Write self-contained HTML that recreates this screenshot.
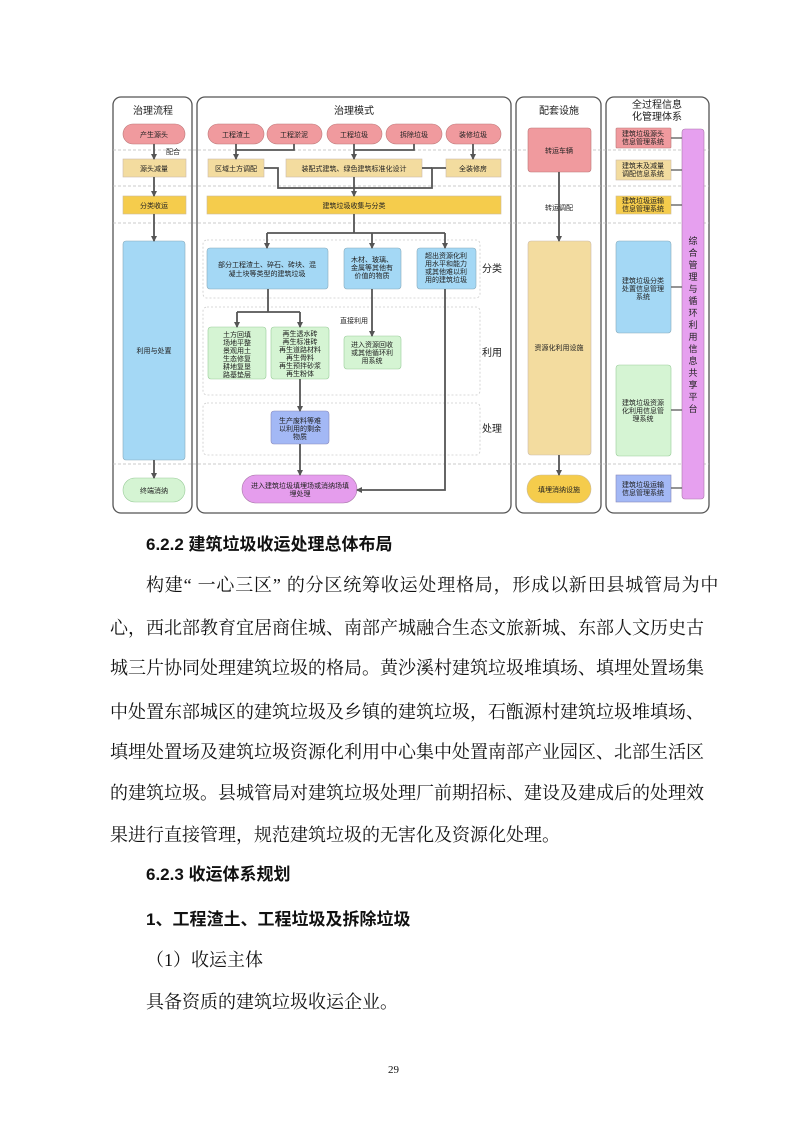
<!DOCTYPE html>
<html><head><meta charset="utf-8"><style>
html,body{margin:0;padding:0;background:#fff}
body{width:793px;height:1122px;position:relative;overflow:hidden}
.t{position:absolute;white-space:nowrap;font-family:"Liberation Serif","Noto Serif CJK SC",serif;font-size:18px;color:#111;line-height:20px}
.h{position:absolute;white-space:nowrap;font-family:"Liberation Sans","Noto Sans CJK SC",sans-serif;font-size:17px;font-weight:bold;color:#111;line-height:20px}
svg text{font-family:"Liberation Sans","Noto Sans CJK SC",sans-serif;fill:#222}
</style></head><body>
<svg width="793" height="530" style="position:absolute;left:0;top:0" xmlns="http://www.w3.org/2000/svg">
<defs><marker id="a" markerWidth="6" markerHeight="6" refX="5" refY="3" orient="auto" markerUnits="userSpaceOnUse"><path d="M0,0 L6,3 L0,6z" fill="#555"/></marker></defs>
<g fill="none" stroke="#555" stroke-width="1.3">
<rect x="113" y="97" width="79" height="416" rx="8"/>
<rect x="197" y="97" width="314" height="416" rx="8"/>
<rect x="516" y="97" width="85" height="416" rx="8"/>
<rect x="606" y="97" width="103" height="416" rx="8"/>
</g>
<g stroke="#bbb" stroke-width="0.8" stroke-dasharray="3,2">
<line x1="113" y1="150" x2="709" y2="150"/><line x1="113" y1="186" x2="709" y2="186"/><line x1="113" y1="223" x2="709" y2="223"/><line x1="113" y1="464" x2="709" y2="464"/>
</g>
<g fill="none" stroke="#ccc" stroke-width="0.8" stroke-dasharray="2,2">
<rect x="203" y="240" width="277" height="58" rx="4"/><rect x="203" y="307" width="277" height="88" rx="4"/><rect x="203" y="403" width="277" height="52" rx="4"/>
</g>
<g font-size="10" text-anchor="middle">
<text x="153" y="114">治理流程</text><text x="354" y="114">治理模式</text><text x="559" y="114">配套设施</text>
<text x="657" y="108">全过程信息</text><text x="657" y="120">化管理体系</text>
<text x="492" y="272">分类</text><text x="492" y="356">利用</text><text x="492" y="432">处理</text>
</g>
<g stroke="#b77" stroke-width="0.6" fill="#f09a9e">
<rect x="123" y="124" width="62" height="20" rx="10"/>
<rect x="208" y="124" width="56" height="20" rx="10"/><rect x="267" y="124" width="55" height="20" rx="10"/><rect x="327" y="124" width="55" height="20" rx="10"/><rect x="386" y="124" width="56" height="20" rx="10"/><rect x="446" y="124" width="55" height="20" rx="10"/>
<rect x="528" y="128" width="63" height="44" rx="3"/><rect x="616" y="128" width="55" height="20" rx="1"/>
</g>
<g stroke="#cba" stroke-width="0.6" fill="#f3dc9f">
<rect x="123" y="159" width="63" height="18"/><rect x="208" y="159" width="56" height="18"/><rect x="286" y="159" width="136" height="18"/><rect x="446" y="159" width="55" height="18"/>
<rect x="528" y="241" width="63" height="214" rx="3"/><rect x="616" y="160" width="55" height="20"/>
</g>
<g stroke="#cb9" stroke-width="0.6" fill="#f5cc4c">
<rect x="123" y="196" width="63" height="18"/><rect x="207" y="196" width="294" height="18"/><rect x="616" y="196" width="55" height="18"/>
<rect x="527" y="475" width="64" height="28" rx="14"/>
</g>
<g stroke="#8ab" stroke-width="0.6" fill="#a4d8f5">
<rect x="123" y="241" width="62" height="219" rx="3"/><rect x="207" y="248" width="121" height="41" rx="3"/><rect x="344" y="248" width="57" height="41" rx="3"/><rect x="417" y="248" width="59" height="41" rx="3"/><rect x="616" y="241" width="55" height="92" rx="3"/>
</g>
<g stroke="#9c9" stroke-width="0.6" fill="#d5f4d3">
<rect x="123" y="478" width="62" height="24" rx="12"/>
<rect x="208" y="327" width="58" height="52" rx="3"/><rect x="271" y="327" width="58" height="52" rx="3"/><rect x="344" y="336" width="57" height="33" rx="3"/><rect x="616" y="365" width="55" height="91" rx="3"/>
</g>
<g stroke="#88b" stroke-width="0.6" fill="#a3b8f5">
<rect x="271" y="411" width="58" height="33" rx="3"/><rect x="616" y="475" width="55" height="27"/>
</g>
<rect x="242" y="475" width="115" height="28" rx="14" fill="#e59ded" stroke="#a7a" stroke-width="0.6"/>
<rect x="682" y="129" width="22" height="370" rx="3" fill="#e6a0ef" stroke="#a7a" stroke-width="0.6"/>
<g fill="none" stroke="#555" stroke-width="1.8">
<path d="M154 144V159" marker-end="url(#a)"/><path d="M154 177V196" marker-end="url(#a)"/><path d="M154 214V241" marker-end="url(#a)"/><path d="M154 460V478" marker-end="url(#a)"/>
<path d="M236 144V159" marker-end="url(#a)"/><path d="M294 144V150H236"/>
<path d="M354 144V159" marker-end="url(#a)"/><path d="M414 144V150H354"/>
<path d="M473 144V159" marker-end="url(#a)"/>
<path d="M264 168H278V188H432V168H446"/><path d="M422 168H432"/><path d="M354 177V196" marker-end="url(#a)"/>
<path d="M354 214V233"/><path d="M267 233H445"/>
<path d="M267 233V248" marker-end="url(#a)"/><path d="M372 233V248" marker-end="url(#a)"/><path d="M445 233V248" marker-end="url(#a)"/>
<path d="M268 289V312"/><path d="M237 312H300"/><path d="M237 312V327" marker-end="url(#a)"/><path d="M300 312V327" marker-end="url(#a)"/>
<path d="M372 289V336" marker-end="url(#a)"/>
<path d="M300 379V411" marker-end="url(#a)"/><path d="M300 444V475" marker-end="url(#a)"/>
<path d="M445 289V490H357" marker-end="url(#a)"/>
<path d="M559 172V241" marker-end="url(#a)"/><path d="M559 455V475" marker-end="url(#a)"/>
<path d="M671 138H682M671 170H682M671 205H682M671 287H682M671 410H682M671 488H682" stroke-width="1.3"/>
</g>
<g font-size="7" text-anchor="middle">
<text x="154" y="137">产生源头</text><text x="166" y="154" text-anchor="start">配合</text>
<text x="236" y="137">工程渣土</text><text x="294" y="137">工程淤泥</text><text x="354" y="137">工程垃圾</text><text x="414" y="137">拆除垃圾</text><text x="473" y="137">装修垃圾</text>
<text x="154" y="171">源头减量</text><text x="236" y="171">区域土方调配</text><text x="354" y="171">装配式建筑、绿色建筑标准化设计</text><text x="473" y="171">全装修房</text>
<text x="154" y="208">分类收运</text><text x="354" y="208">建筑垃圾收集与分类</text>
<text x="154" y="353">利用与处置</text><text x="154" y="493">终端消纳</text>
<text x="267" y="267">部分工程渣土、碎石、砖块、混</text><text x="267" y="276">凝土块等类型的建筑垃圾</text>
<text x="372" y="262">木材、玻璃、</text><text x="372" y="270">金属等其他有</text><text x="372" y="278">价值的物质</text>
<text x="446" y="258">超出资源化利</text><text x="446" y="266">用水平和能力</text><text x="446" y="274">或其他难以利</text><text x="446" y="282">用的建筑垃圾</text>
<text x="354" y="323">直接利用</text>
<text x="237" y="337">土方回填</text><text x="237" y="345">场地平整</text><text x="237" y="353">景观用土</text><text x="237" y="361">生态修复</text><text x="237" y="369">耕地复垦</text><text x="237" y="377">路基垫层</text>
<text x="300" y="336">再生透水砖</text><text x="300" y="344">再生标准砖</text><text x="300" y="352">再生道路材料</text><text x="300" y="360">再生骨料</text><text x="300" y="368">再生预拌砂浆</text><text x="300" y="376">再生粉体</text>
<text x="372" y="347">进入资源回收</text><text x="372" y="355">或其他循环利</text><text x="372" y="363">用系统</text>
<text x="300" y="423">生产废料等难</text><text x="300" y="431">以利用的剩余</text><text x="300" y="439">物质</text>
<text x="300" y="488">进入建筑垃圾填埋场或消纳场填</text><text x="300" y="496">埋处理</text>
<text x="559" y="153">转运车辆</text><text x="559" y="210">转运调配</text><text x="559" y="350">资源化利用设施</text><text x="559" y="492">填埋消纳设施</text>
<text x="643" y="136">建筑垃圾源头</text><text x="643" y="144">信息管理系统</text>
<text x="643" y="168">建筑末及减量</text><text x="643" y="176">调配信息系统</text>
<text x="643" y="203">建筑垃圾运输</text><text x="643" y="211">信息管理系统</text>
<text x="643" y="283">建筑垃圾分类</text><text x="643" y="291">处置信息管理</text><text x="643" y="299">系统</text>
<text x="643" y="405">建筑垃圾资源</text><text x="643" y="413">化利用信息管</text><text x="643" y="421">理系统</text>
<text x="643" y="487">建筑垃圾运输</text><text x="643" y="495">信息管理系统</text>
</g>
<g font-size="9" text-anchor="middle">
<text x="693" y="244">综</text><text x="693" y="256">合</text><text x="693" y="268">管</text><text x="693" y="280">理</text><text x="693" y="292">与</text><text x="693" y="304">循</text><text x="693" y="316">环</text><text x="693" y="328">利</text><text x="693" y="340">用</text><text x="693" y="352">信</text><text x="693" y="364">息</text><text x="693" y="376">共</text><text x="693" y="388">享</text><text x="693" y="400">平</text><text x="693" y="412">台</text>
</g>
</svg>
<div class="h" style="left:146px;top:535px">6.2.2 建筑垃圾收运处理总体布局</div>
<div class="t" style="left:146px;top:575px;letter-spacing:0.8px">构建<span style="letter-spacing:6px">“</span>一心三区<span style="letter-spacing:6px">”</span>的分区统筹收运处理格局，形成以新田县城管局为中</div>
<div class="t" style="left:110px;top:618px">心，西北部教育宜居商住城、南部产城融合生态文旅新城、东部人文历史古</div>
<div class="t" style="left:110px;top:658px">城三片协同处理建筑垃圾的格局。黄沙溪村建筑垃圾堆填场、填埋处置场集</div>
<div class="t" style="left:110px;top:702px">中处置东部城区的建筑垃圾及乡镇的建筑垃圾，石甑源村建筑垃圾堆填场、</div>
<div class="t" style="left:110px;top:742px">填埋处置场及建筑垃圾资源化利用中心集中处置南部产业园区、北部生活区</div>
<div class="t" style="left:110px;top:783px">的建筑垃圾。县城管局对建筑垃圾处理厂前期招标、建设及建成后的处理效</div>
<div class="t" style="left:110px;top:825px">果进行直接管理，规范建筑垃圾的无害化及资源化处理。</div>
<div class="h" style="left:146px;top:865px">6.2.3 收运体系规划</div>
<div class="h" style="left:146px;top:910px">1、工程渣土、工程垃圾及拆除垃圾</div>
<div class="t" style="left:146px;top:950px">（1）收运主体</div>
<div class="t" style="left:146px;top:992px">具备资质的建筑垃圾收运企业。</div>
<div class="t" style="left:388px;top:1060px;font-size:11px">29</div>
</body></html>
